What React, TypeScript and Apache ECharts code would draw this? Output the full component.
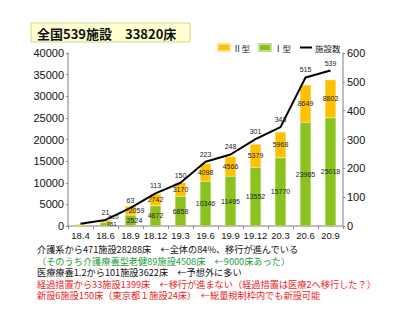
import React, { useEffect, useRef } from "react";
import * as echarts from "echarts";

const categories = ["18.4", "18.6", "18.9", "18.12", "19.3", "19.6", "19.9", "19.12", "20.3", "20.6", "20.9"];
const type1Beds = [120, 781, 2524, 4672, 6858, 10346, 11495, 13552, 15770, 23965, 25018];
const type2Beds = [300, 610, 2059, 2742, 3170, 4098, 4566, 5379, 5968, 8649, 8802];
const facilities = [8, 21, 63, 113, 150, 223, 248, 301, 343, 515, 539];
const leftTicks = { min: 0, max: 40000, interval: 5000 };
const rightTicks = { min: 0, max: 600, interval: 100 };
const titleText = "全国539施設　33820床";
const notes = [
  { text: "介護系から471施設28288床　←全体の84%、移行が進んでいる", color: "#111111" },
  { text: "（そのうち介護療養型老健89施設4508床　←9000床あった）", color: "#1e9e3e" },
  { text: "医療療養1.2から101施設3622床　←予想外に多い", color: "#111111" },
  { text: "経過措置から33施設1399床　←移行が進まない（経過措置は医療2へ移行した？）", color: "#ee1c24" },
  { text: "新設6施設150床（東京都１施設24床）　←総量規制枠内でも新設可能", color: "#ee1c24" },
];

const NUM_FONT = "'Liberation Sans', Arial, 'Noto Sans CJK JP', sans-serif";
const JP_FONT = "'Noto Sans CJK JP', sans-serif";

export default function App() {
  const ref = useRef<HTMLDivElement>(null);
  useEffect(() => {
    document.body.style.margin = "0";
    const chart = echarts.init(ref.current!, null, { renderer: "svg" });
    const smallLabel = { fontSize: 7, color: "#222", fontFamily: NUM_FONT };
    const option: any = {
      animation: false,
      backgroundColor: "#ffffff",
      textStyle: { fontFamily: NUM_FONT },
      grid: { left: 68, right: 57, top: 53, bottom: 98 },
      legend: {
        left: 212,
        top: 38,
        itemWidth: 12,
        itemHeight: 7,
        itemGap: 8,
        textStyle: { fontSize: 8.5, fontFamily: JP_FONT, color: "#222", padding: [0, 0, 0, -2] },
        data: [
          { name: "Ⅱ型", icon: "rect" },
          { name: "Ⅰ型", icon: "rect" },
          { name: "施設数", itemStyle: { opacity: 0 }, lineStyle: { width: 2, color: "#000" } },
        ],
      },
      xAxis: {
        type: "category",
        data: categories,
        axisLine: { lineStyle: { color: "#aaaaaa", width: 1.5 } },
        axisTick: { show: true, length: 3, interval: 0, lineStyle: { color: "#888" } },
        axisLabel: { interval: 0, fontSize: 9.5, color: "#111", margin: 5, fontFamily: NUM_FONT },
      },
      yAxis: [
        {
          type: "value",
          ...leftTicks,
          axisLine: { show: true, lineStyle: { color: "#aaaaaa", width: 1.5 } },
          axisTick: { show: true, length: 2, lineStyle: { color: "#888" } },
          splitLine: { show: false },
          axisLabel: { fontSize: 11, color: "#111", margin: 4, fontFamily: NUM_FONT, formatter: (v: number) => String(v) },
        },
        {
          type: "value",
          ...rightTicks,
          position: "right",
          axisLine: { show: true, lineStyle: { color: "#aaaaaa", width: 1.5 } },
          axisTick: { show: true, length: 2, lineStyle: { color: "#888" } },
          splitLine: { show: false },
          axisLabel: { fontSize: 11, color: "#111", margin: 4, fontFamily: NUM_FONT, formatter: (v: number) => String(v) },
        },
      ],
      series: [
        {
          name: "Ⅰ型",
          type: "bar",
          stack: "beds",
          barWidth: 11,
          itemStyle: { color: "#8cc21f", borderColor: "#c4e08a", borderWidth: 0.5 },
          label: {
            show: true,
            position: "inside",
            ...smallLabel,
            formatter: (p: any) => (p.dataIndex < 1 ? "" : String(p.value)),
          },
          data: type1Beds.map((v, i) =>
            i === 1 ? { value: v, label: { offset: [6, 0], fontSize: 6 } } :
            i === 2 ? { value: v, label: { offset: [4, 0] } } : v
          ),
        },
        {
          name: "Ⅱ型",
          type: "bar",
          stack: "beds",
          barWidth: 11,
          itemStyle: { color: "#ffc000", borderColor: "#ffe08a", borderWidth: 0.5 },
          label: {
            show: true,
            position: "inside",
            ...smallLabel,
            formatter: (p: any) => (p.dataIndex < 1 ? "" : String(p.value)),
          },
          data: type2Beds.map((v, i) =>
            i === 1 ? { value: v, label: { offset: [8, -4], fontSize: 6 } } :
            i === 2 ? { value: v, label: { offset: [6, 0] } } : v
          ),
        },
        {
          name: "施設数",
          type: "line",
          yAxisIndex: 1,
          data: facilities,
          symbol: "circle",
          symbolSize: 0.1,
          showSymbol: true,
          lineStyle: { color: "#000", width: 2 },
          itemStyle: { color: "#000" },
          labelLayout: { hideOverlap: false },
          label: {
            show: true,
            position: "top",
            distance: 4,
            ...smallLabel,
            formatter: (p: any) => (p.dataIndex < 1 ? "" : String(p.value)),
          },
        },
      ],
      graphic: [
        {
          type: "rect",
          shape: { x: 31, y: 23, width: 159, height: 19 },
          style: { fill: "#ffffd2", stroke: "#c3df86", lineWidth: 1 },
        },
        {
          type: "text",
          x: 37,
          y: 33,
          style: {
            text: titleText,
            fontSize: 13,
            fontWeight: "bold",
            fontFamily: JP_FONT,
            fill: "#111",
            verticalAlign: "middle",
          },
        },
        ...notes.map((n, i) => ({
          type: "text",
          x: 37,
          y: 249 + i * 11.5,
          style: {
            text: n.text,
            fontSize: 9.2,
            lineHeight: 11,
            fontFamily: JP_FONT,
            fill: n.color,
            verticalAlign: "middle",
          },
        })),
      ],
    };
    chart.setOption(option);
    return () => chart.dispose();
  }, []);
  return <div ref={ref} style={{ width: 400, height: 324, position: "absolute", left: 0, top: 0 }} />;
}
